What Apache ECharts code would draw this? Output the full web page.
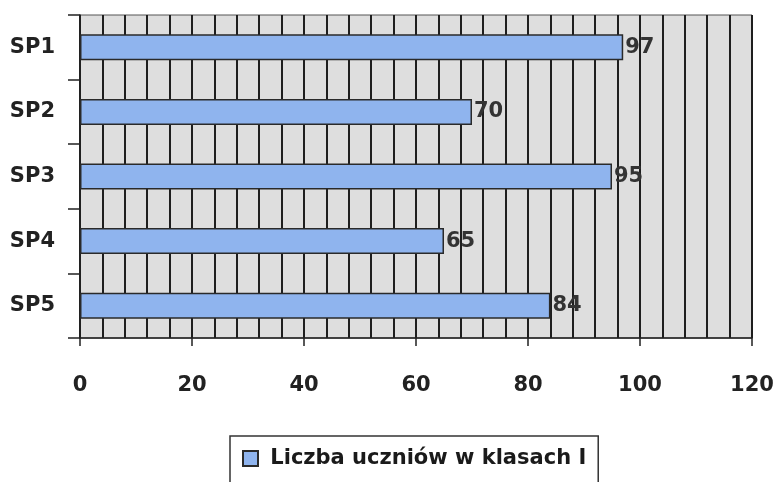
<!DOCTYPE html>
<html><head><meta charset="utf-8">
<script src="https://cdn.jsdelivr.net/npm/echarts@6/dist/echarts.min.js"></script>
<style>html,body{margin:0;padding:0;background:#fff}#c{width:777px;height:482px}</style>
</head><body><div id="c"></div>
<script>
const categories = ['SP1','SP2','SP3','SP4','SP5'];
const values = [97, 70, 95, 65, 84];
const seriesName = 'Liczba uczniów w klasach I';
const xTicks = {min: 0, max: 120, interval: 20};

const FONT = 'DejaVu Sans';
const chart = echarts.init(document.getElementById('c'));
chart.setOption({
  animation: false,
  grid: {left: 80, right: 25, top: 15, bottom: 144, show: true, backgroundColor: '#dedede', borderColor: '#555', borderWidth: 1},
  xAxis: {
    type: 'value', min: xTicks.min, max: xTicks.max, interval: xTicks.interval,
    axisLine: {show: true, lineStyle: {color: '#222', width: 1.5}},
    axisTick: {show: true, length: 8, lineStyle: {color: '#222', width: 1.5}},
    minorTick: {show: false, splitNumber: 5},
    splitLine: {show: true, lineStyle: {color: '#1e1e1e', width: 2}},
    minorSplitLine: {show: true, lineStyle: {color: '#1e1e1e', width: 2}},
    axisLabel: {fontFamily: FONT, fontWeight: 'bold', fontSize: 21, color: '#222', margin: 37}
  },
  yAxis: {
    type: 'category', data: categories, inverse: true,
    axisLine: {show: true, lineStyle: {color: '#222', width: 1.5}},
    axisTick: {show: true, length: 12, lineStyle: {color: '#222', width: 1.5}},
    axisLabel: {fontFamily: FONT, fontWeight: 'bold', fontSize: 21, color: '#222', margin: 25}
  },
  legend: {
    data: [seriesName], left: 230, top: 436,
    borderColor: '#333', borderWidth: 1.5, padding: [12, 12, 16, 12],
    icon: 'rect', itemWidth: 15, itemHeight: 15, itemGap: 6,
    formatter: function (n) { return ' ' + n; },
    textStyle: {fontFamily: FONT, fontWeight: 'bold', fontSize: 21, color: '#1a1a1a'}
  },
  series: [{
    name: seriesName, type: 'bar', data: values, barWidth: 26,
    itemStyle: {color: '#8fb4ee', borderColor: '#2a2a2a', borderWidth: 1.5},
    label: {show: true, position: 'right', distance: 2, fontFamily: FONT, fontWeight: 'bold', fontSize: 21, color: '#333'}
  }]
});
</script></body></html>
